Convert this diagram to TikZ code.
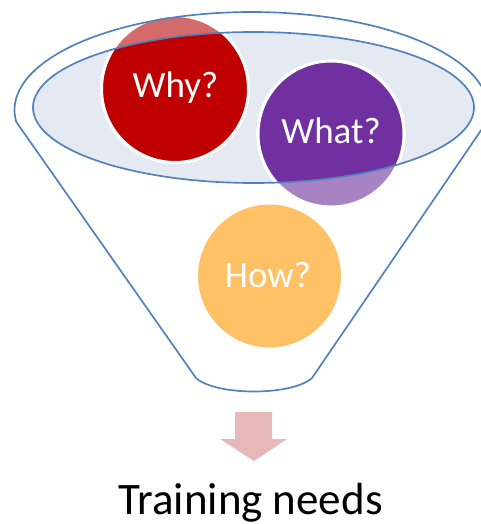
\documentclass[tikz,border=0pt]{standalone}
\usepackage{fontspec}
\setmainfont{Carlito}
\definecolor{funnelblue}{HTML}{4F81BD}
\definecolor{innerfill}{HTML}{E4E9F2}
\definecolor{whyred}{HTML}{C00000}
\definecolor{whypale}{HTML}{D46A6A}
\definecolor{whatpurple}{HTML}{7030A0}
\definecolor{whatpale}{HTML}{A883C4}
\definecolor{howorange}{HTML}{FFC166}
\definecolor{arrowpink}{HTML}{E6B9B8}
\begin{document}
\begin{tikzpicture}[x=0.75pt,y=-0.75pt,
  bubble/.style={circle, inner sep=0pt, draw=white, line width=2.25pt, minimum size=#1},
  qtext/.style={text=white, font=\fontsize{27.75}{30}\selectfont, anchor=base, inner sep=0pt},
  funnelline/.style={draw=funnelblue, line width=1.25pt, line join=round}]
\clip (0,0) rectangle (481,524);
\fill[white] (0,0) rectangle (481,524);
% inner ellipse fill
\fill[innerfill] (253.5,107.5) ellipse [x radius=220.5, y radius=75.5];
% pale bubbles
\node[bubble=110.25pt, fill=whypale] (why) at (175,89) {};
\node[bubble=109.5pt, fill=whatpale] (what) at (331,134) {};
\node[bubble=109.5pt, fill=howorange] (how) at (269.5,276) {};
% opaque parts inside the inner ellipse
\begin{scope}
  \clip (253.5,107.5) ellipse [x radius=220.5, y radius=75.5];
  \filldraw[fill=whyred, draw=white, line width=2.25pt] (why.center) circle [radius=73.5];
  \filldraw[fill=whatpurple, draw=white, line width=2.25pt] (what.center) circle [radius=73];
\end{scope}
% texts
\node[qtext] (whyT) at (175.5,98) {Why?};
\node[qtext] (whatT) at (331,143) {What?};
\node[qtext] (howT) at (268,287) {How?};
% outlines
\draw[funnelline] (253.5,107.5) ellipse [x radius=220.5, y radius=75.5];
\draw[funnelline] plot[domain=172.97:367.03, samples=120, variable=\t] ({251.5+237*cos(\t)}, {110+98*sin(\t)})
  -- (312,378) .. controls (292,396) and (216,396) .. (196,378) -- cycle;
% arrow
\fill[arrowpink] (235,412) -- (272,412) -- (272,439) -- (287,439) -- (254,461) -- (220,439) -- (235,439) -- cycle;
% label
\node[font=\fontsize{33.75}{40}\selectfont, anchor=base, inner sep=0pt] (label) at (250.5,514) {Training needs};
\end{tikzpicture}
\end{document}
